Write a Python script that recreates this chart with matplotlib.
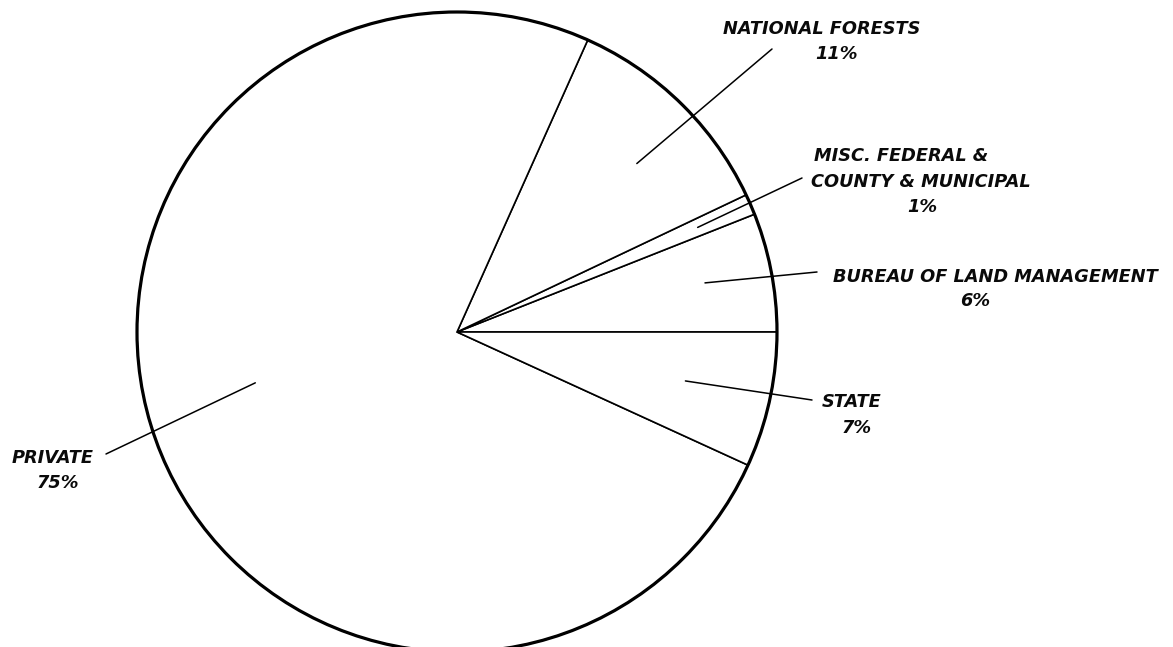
import numpy as np
import matplotlib
matplotlib.use("Agg")
import matplotlib.pyplot as plt
from matplotlib.patches import Circle

# ---- data ----
categories = ["BUREAU OF LAND MANAGEMENT", "MISC. FEDERAL & COUNTY & MUNICIPAL",
              "NATIONAL FORESTS", "PRIVATE", "STATE"]
wedge_sizes = [6.0, 1.05, 11.25, 74.87, 6.83]
name_lines = [["BUREAU OF LAND MANAGEMENT"],
              ["MISC. FEDERAL &", "COUNTY & MUNICIPAL"],
              ["NATIONAL FORESTS"],
              ["PRIVATE"],
              ["STATE"]]
pct_labels = ["6%", "1%", "11%", "75%", "7%"]

# ---- layout (pixel coordinates of the 1173x647 canvas) ----
W, H = 1173, 647
CX, CY, R = 457, 332, 320


def Y(y):
    return H - y


layout = {
    "BUREAU OF LAND MANAGEMENT": dict(lines=[(833, 282)], pct=(960, 306),
                                      outer=(817, 272), inner=(0.79, 0.4)),
    "MISC. FEDERAL & COUNTY & MUNICIPAL": dict(lines=[(814, 161), (811, 187)], pct=(907, 212),
                                               outer=(802, 178), inner=(0.82, 0.0)),
    "NATIONAL FORESTS": dict(lines=[(723, 34)], pct=(815, 59),
                             outer=(772, 49), inner=(0.77, -2.5)),
    "PRIVATE": dict(lines=[(12, 463)], pct=(37, 488),
                    outer=(106, 454), inner=(0.65, -6.5)),
    "STATE": dict(lines=[(822, 407)], pct=(842, 433),
                  outer=(812, 400), inner=(0.73, 0.2)),
}

fig = plt.figure(figsize=(W / 100, H / 100), dpi=100)
fig.patch.set_facecolor("white")
ax = fig.add_axes([0, 0, 1, 1])

wedges, _ = ax.pie(wedge_sizes, startangle=0, counterclock=True,
                   center=(CX, Y(CY)), radius=R,
                   colors=["white"] * len(wedge_sizes),
                   wedgeprops=dict(edgecolor="black", linewidth=1.2))
ax.add_patch(Circle((CX, Y(CY)), R, fill=False, edgecolor="black", linewidth=2.3, zorder=5))

ax.set_xlim(0, W)
ax.set_ylim(0, H)
ax.set_aspect("auto")
ax.axis("off")

font = dict(family="DejaVu Sans", weight="bold", style="oblique", size=12.8, color="#0a0a0a")

for w, cat, lines, pct in zip(wedges, categories, name_lines, pct_labels):
    lay = layout[cat]
    for txt, (x, y) in zip(lines, lay["lines"]):
        ax.text(x, Y(y), txt, ha="left", va="baseline", **font)
    px, py = lay["pct"]
    ax.text(px, Y(py), pct, ha="left", va="baseline", **font)
    mid = np.deg2rad((w.theta1 + w.theta2) / 2 + lay["inner"][1])
    rf = lay["inner"][0]
    ix = CX + R * rf * np.cos(mid)
    iy = Y(CY) + R * rf * np.sin(mid)
    ox, oy = lay["outer"]
    ax.annotate("", xy=(ix, iy), xytext=(ox, Y(oy)),
                arrowprops=dict(arrowstyle="-", color="black", linewidth=1.1,
                                shrinkA=0, shrinkB=0))

fig.savefig("out.png", dpi=100, facecolor="white")
